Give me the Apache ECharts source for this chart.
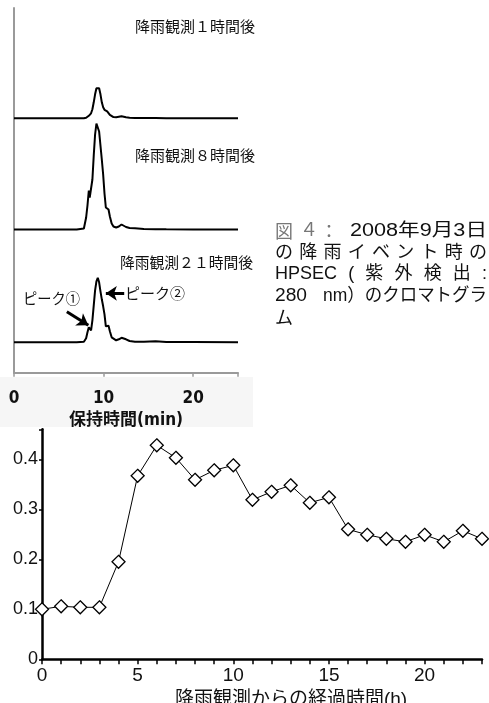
<!DOCTYPE html>
<html><head><meta charset="utf-8">
<script src="https://cdn.jsdelivr.net/npm/echarts@6/dist/echarts.min.js"></script>
<style>html,body{margin:0;padding:0;background:#fff}#c{width:489px;height:703px}</style>
</head><body><div id="c"></div>
<script>
// ---------------- DATA ----------------
// HPSEC chromatograms (retention time in min, UV280 signal, arbitrary units)
const rtMin    = [0, 7.0, 7.8, 8.05, 8.2, 8.35, 8.45, 8.6, 8.75, 8.9, 9.05, 9.2, 9.35, 9.5, 9.65, 9.8, 9.95, 10.1, 10.25, 10.4, 10.55, 10.7, 10.9, 11.1, 11.4, 11.7, 12.0, 12.2, 12.5, 12.9, 13.5, 14.5, 15.8, 17, 20, 25];
const trace1h  = [0, 0, 0, 0.5, 2, 2.5, 3, 5, 9, 16, 24, 30, 32, 30, 24, 16, 11, 8.5, 7, 7, 6, 3.5, 2, 1.2, 1, 1.5, 2, 1.6, 1, 0.6, 0.4, 0.3, 0.3, 0.1, 0, 0];
const trace8h  = [0, 0, 1, 12, 24, 39, 32, 30, 50, 74, 95, 106, 108, 98, 84, 70, 55, 36, 22, 21, 20, 13, 6, 3, 2, 3, 5, 4.5, 2.5, 1.5, 1.2, 0.5, 0.3, 0.2, 0, 0];
const trace21h = [0, 0, 0.5, 4, 10, 15, 15.5, 12, 22, 37, 52, 61, 64.5, 60, 51, 43, 36, 28, 16, 14, 16.5, 11, 5, 3, 2, 3, 4.5, 5, 3, 1.3, 0.6, 0.5, 1, 0.3, 0.2, 0];
const chromXTicks = [0, 10, 20];
const traceNames = ['降雨観測１時間後', '降雨観測８時間後', '降雨観測２１時間後'];
const peakNames  = ['ピーク①', 'ピーク②'];

// Time course after rainfall observation
const hours = [0, 1, 2, 3, 4, 5, 6, 7, 8, 9, 10, 11, 12, 13, 14, 15, 16, 17, 18, 19, 20, 21, 22, 23];
const ratio = [0.100, 0.106, 0.104, 0.104, 0.195, 0.367, 0.428, 0.403, 0.359, 0.378, 0.388, 0.319, 0.335, 0.348, 0.313, 0.324, 0.260, 0.249, 0.241, 0.235, 0.249, 0.235, 0.257, 0.241];
const ratioYTicks = [0, 0.1, 0.2, 0.3, 0.4];
const hourXTicks  = [0, 5, 10, 15, 20];

// ---------------- LAYOUT ----------------
const traceOffsets = [254.4, 143.2, 30.4]; // vertical stacking of chromatograms (y units)
const CJK = "'Noto Sans CJK JP', sans-serif";
const LAT = "'Liberation Sans', 'Noto Sans CJK JP', sans-serif";
const NARROW = "'Liberation Sans Narrow', 'DejaVu Sans Condensed', 'Noto Sans CJK JP', sans-serif";

const ctx = document.createElement('canvas').getContext('2d');
function textEl(text, x, yc, font, fill, sx) {
  return {type: 'text', x: x, y: yc, scaleX: sx || 1, originX: 0, originY: 0, silent: true, z: 10,
    style: {text: text, font: font, fill: fill || '#111', textAlign: 'left', align: 'left',
            textVerticalAlign: 'middle', verticalAlign: 'middle'}};
}
function fitText(text, x0, x1, yc, size, family, fill, weight) {
  const font = (weight || 'normal') + ' ' + size + 'px ' + (family || CJK);
  ctx.font = font;
  const w = ctx.measureText(text).width;
  return textEl(text, x0, yc, font, fill, (x1 - x0) / w);
}
function justify(tokens, x0, x1, yc, size, family, fill) {
  const font = 'normal ' + size + 'px ' + (family || LAT);
  ctx.font = font;
  const ws = tokens.map(t => ctx.measureText(t).width);
  const sum = ws.reduce((a, b) => a + b, 0);
  const gap = (x1 - x0 - sum) / (tokens.length - 1);
  const out = [];
  let x = x0;
  tokens.forEach((t, i) => { out.push(textEl(t, x, yc, font, fill)); x += ws[i] + gap; });
  return out;
}

const graphics = [
  {type: 'rect', shape: {x: 0, y: 377, width: 253, height: 50}, style: {fill: '#f6f6f6'}, z: -10, silent: true},
  fitText(traceNames[0], 135, 255, 26, 15),
  fitText(traceNames[1], 135, 255, 155, 15),
  fitText(traceNames[2], 120, 253, 262, 15),
  fitText(peakNames[0], 23, 80, 298, 15),
  fitText(peakNames[1], 125, 185, 293, 15),
  // caption
  textEl('図', 275, 231.5, "normal 18px 'Noto Sans CJK JP'", '#777'),
  textEl('４', 300, 231.5, "normal 18px 'DejaVu Serif', 'Noto Sans CJK JP'", '#777'),
  textEl('：', 320, 231.5, "normal 18px 'Noto Sans CJK JP'", '#777'),
  fitText('2008年9月3日', 350, 487, 231.5, 18, LAT),
  ...justify(['の', '降', '雨', 'イ', 'ベ', 'ン', 'ト', '時', 'の'], 275, 487, 253, 18, LAT),
  ...justify(['HPSEC', '(', '紫', '外', '検', '出', ':'], 275, 487, 274.5, 18, LAT),
  fitText('280', 275, 307, 296, 18, LAT),
  fitText('nm）のクロマトグラ', 323, 487, 296, 18, LAT),
  textEl('ム', 275, 317.5, "normal 18px 'Noto Sans CJK JP'", '#111')
];

function pairs(xs, ys, off) { return xs.map((x, i) => [x, ys[i] + (off || 0)]); }

const traceStyle = {color: '#000', width: 2};
const option = {
  backgroundColor: '#fff',
  animation: false,
  grid: [
    {left: 14, top: 8, width: 224, height: 364.7, containLabel: false, outerBoundsMode: 'none'},
    {left: 42, top: 429.3, width: 440, height: 230, containLabel: false, outerBoundsMode: 'none'}
  ],
  xAxis: [
    {gridIndex: 0, type: 'value', min: 0, max: 25, interval: 10,
     axisLine: {show: true, lineStyle: {color: '#9a9a9a', width: 2}},
     axisTick: {show: true, length: 4, lineStyle: {color: '#9a9a9a', width: 1.5}},
     axisLabel: {margin: 17, fontFamily: NARROW, fontWeight: 'bold', fontSize: 17, color: '#111',
                 formatter: v => chromXTicks.includes(v) ? String(v) : ''},
     splitLine: {show: false},
     name: '保持時間(min)', nameLocation: 'middle', nameGap: 28,
     nameTextStyle: {fontFamily: NARROW, fontWeight: 'bold', fontSize: 17, color: '#111'}},
    {gridIndex: 1, type: 'value', min: 0, max: 23, interval: 1,
     axisLine: {show: true, lineStyle: {color: '#000', width: 2.5}},
     axisTick: {show: true, length: 5, lineStyle: {color: '#000', width: 1.5}},
     axisLabel: {margin: 7, fontFamily: LAT, fontSize: 19, color: '#111',
                 formatter: v => hourXTicks.includes(v) ? String(v) : ''},
     splitLine: {show: false},
     name: '降雨観測からの経過時間(h)', nameLocation: 'middle', nameGap: 31,
     nameTextStyle: {fontFamily: LAT, fontSize: 19, color: '#111', padding: [0, 0, 0, 58]}}
  ],
  yAxis: [
    {gridIndex: 0, type: 'value', min: 0, max: 364.7,
     axisLine: {show: true, lineStyle: {color: '#9a9a9a', width: 2}},
     axisTick: {show: false}, axisLabel: {show: false}, splitLine: {show: false}},
    {gridIndex: 1, type: 'value', min: 0, max: 0.46, interval: 0.1,
     axisLine: {show: true, lineStyle: {color: '#000', width: 2.5}},
     axisTick: {show: true, length: 3, lineStyle: {color: '#000', width: 1.5}},
     axisLabel: {margin: 4, fontFamily: LAT, fontSize: 18, color: '#111',
                 formatter: v => ratioYTicks.some(t => Math.abs(t - v) < 1e-9) ? (v === 0 ? '0' : v.toFixed(1)) : ''},
     splitLine: {show: false}}
  ],
  series: [
    {type: 'line', xAxisIndex: 0, yAxisIndex: 0, data: pairs(rtMin, trace1h, traceOffsets[0]),
     showSymbol: false, lineStyle: traceStyle, silent: true},
    {type: 'line', xAxisIndex: 0, yAxisIndex: 0, data: pairs(rtMin, trace8h, traceOffsets[1]),
     showSymbol: false, lineStyle: traceStyle, silent: true},
    {type: 'line', xAxisIndex: 0, yAxisIndex: 0, data: pairs(rtMin, trace21h, traceOffsets[2]),
     showSymbol: false, lineStyle: traceStyle, silent: true,
     markLine: {silent: true, symbol: ['none', 'arrow'], symbolSize: 11, animation: false,
       label: {show: false}, lineStyle: {color: '#000', width: 3, type: 'solid'},
       data: [
         [{coord: [5.9, 61]}, {coord: [8.3, 47.5]}],
         [{coord: [12.3, 79.4]}, {coord: [10.25, 79.4]}]
       ]}},
    {type: 'line', xAxisIndex: 1, yAxisIndex: 1, data: pairs(hours, ratio),
     symbol: 'diamond', symbolSize: 13, showAllSymbol: true,
     itemStyle: {color: '#fff', borderColor: '#000', borderWidth: 1.3},
     lineStyle: {color: '#000', width: 1}, z: 5}
  ],
  graphic: graphics
};
const chart = echarts.init(document.getElementById('c'), null, {renderer: 'canvas'});
chart.setOption(option);
</script>
</body></html>
